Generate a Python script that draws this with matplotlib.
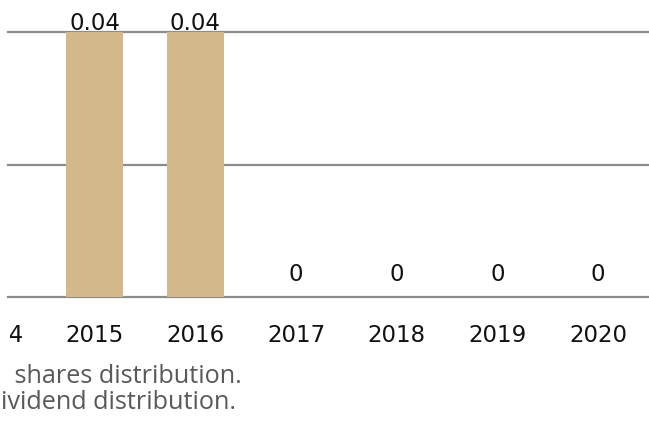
import numpy as np
import matplotlib
matplotlib.use("Agg")
import matplotlib.pyplot as plt
from matplotlib.transforms import Bbox, TransformedBbox

years = ['2014', '2015', '2016', '2017', '2018', '2019', '2020']
values = [np.nan, 0.04, 0.04, 0, 0, 0, 0]
value_labels = ['', '0.04', '0.04', '0', '0', '0', '0']
notes = [' shares distribution.', 'ividend distribution.']

W, H = 649, 427
fig = plt.figure(figsize=(W / 100, H / 100), dpi=100)

# axes in pixel coords: left 8, right 649, top 33, bottom 298
ax = fig.add_axes([8 / W, 1 - 298 / H, (W - 8) / W, (298 - 33) / H])
x = np.arange(len(years))

bar_color = '#D3B88A'
ax.bar(x, values, width=0.57, color=bar_color, zorder=3)

for yv in [0, 0.02, 0.04]:
    ax.axhline(yv, color='#8C8C8C', lw=1.6, zorder=2, clip_on=False)

numfont = 'DejaVu Sans'
for xi, v, lab in zip(x, values, value_labels):
    if lab:
        off = 2.2 if v > 0 else 12.2
        ax.annotate(lab, (xi, v), xytext=(0, off), textcoords='offset points',
                    ha='center', va='baseline', fontsize=16.5, color='#111111',
                    family=numfont, annotation_clip=False)

# category labels (drawn as text so the partly cropped first one still shows)
clip = TransformedBbox(Bbox([[9.5 / W, 0], [1, 1]]), fig.transFigure)
ax.set_xticks([])
for xi, yr in zip(x, years):
    t = ax.annotate(yr, (xi, 0), xycoords=('data', 'axes fraction'),
                    xytext=(0, -31.5), textcoords='offset points',
                    ha='center', va='baseline', fontsize=16.5, color='#111111',
                    family=numfont, annotation_clip=False)
    t.set_clip_box(clip)
    t.set_clip_on(True)
ax.set_yticks([])
for s in ax.spines.values():
    s.set_visible(False)

# index 0 center at -6 px, spacing 100.7 px
px_per = 100.7
ax.set_xlim((8 + 6) / px_per, (W + 6) / px_per)
ax.set_ylim(0, 0.04)

fig.text(8 / W, 1 - 382.7 / H, notes[0], fontsize=18.2, color='#595959',
         family='Open Sans', va='baseline', ha='left')
fig.text(1 / W, 1 - 409.5 / H, notes[1], fontsize=18.2, color='#595959',
         family='Open Sans', va='baseline', ha='left')

fig.savefig('out.png', dpi=100)
